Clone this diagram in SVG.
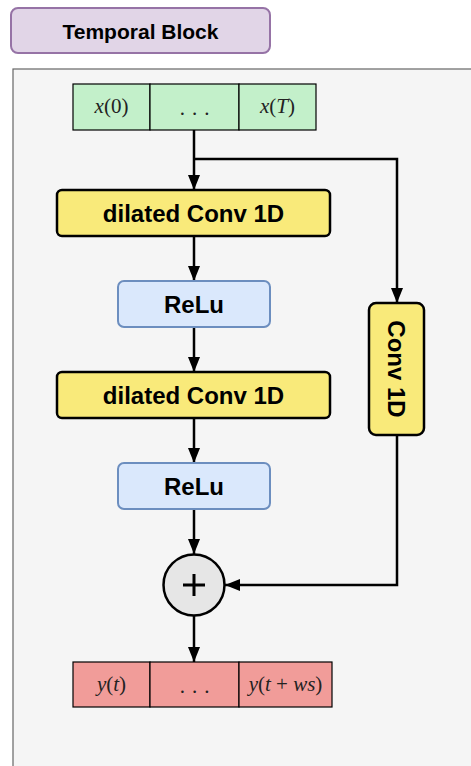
<svg xmlns="http://www.w3.org/2000/svg" width="471" height="766" viewBox="0 0 471 766">
  <defs>
    <marker id="arrow" viewBox="0 0 15 12" refX="15" refY="6" markerWidth="15" markerHeight="12" markerUnits="userSpaceOnUse" orient="auto">
      <path d="M0,0 L15,6 L0,12 z" fill="#000"/>
    </marker>
    <style>
      .lbl { font-family: "Liberation Sans", Arial, sans-serif; font-weight: bold; font-size: 24px; fill: #000; text-anchor: middle; dominant-baseline: central; }
      .title { font-size: 21px; }
      .math { font-family: "Liberation Serif", "Times New Roman", serif; font-style: italic; font-size: 21px; fill: #222; text-anchor: middle; dominant-baseline: central; }
      .up { font-style: normal; }
      .conv { fill: #f9ea7a; stroke: #000; stroke-width: 2.5; }
      .relu { fill: #dae8fc; stroke: #6c8ebf; stroke-width: 2; }
      .inp { fill: #c3f0ca; stroke: #000; stroke-width: 1.2; }
      .out { fill: #f19c99; stroke: #000; stroke-width: 1.2; }
      .wire { fill: none; stroke: #000; stroke-width: 2.5; }
    </style>
  </defs>

  <rect width="471" height="766" fill="#ffffff"/>

  <g id="title">
    <rect x="11" y="8" width="259" height="45" rx="7" fill="#e1d5e7" stroke="#9673a6" stroke-width="2"/>
    <text class="lbl title" x="140.5" y="31">Temporal Block</text>
  </g>

  <g id="container">
    <rect x="13" y="69" width="470" height="710" fill="#f5f5f5" stroke="#666666" stroke-width="1.2"/>
  </g>

  <g id="connectors">
    <path class="wire" d="M194,130 V190" marker-end="url(#arrow)" />
    <path class="wire" d="M194,159 H397 V303" marker-end="url(#arrow)" />
    <path class="wire" d="M194,236 V281" marker-end="url(#arrow)" />
    <path class="wire" d="M194,327 V372" marker-end="url(#arrow)" />
    <path class="wire" d="M194,418 V463" marker-end="url(#arrow)" />
    <path class="wire" d="M194,509 V554" marker-end="url(#arrow)" />
    <path class="wire" d="M397,435 V585 H225" marker-end="url(#arrow)" />
    <path class="wire" d="M194,616 V662" marker-end="url(#arrow)" />
  </g>

  <g id="input">
    <rect class="inp" x="73" y="84" width="77" height="46"/>
    <rect class="inp" x="150" y="84" width="89" height="46"/>
    <rect class="inp" x="239" y="84" width="77" height="46"/>
    <text class="math" x="111.5" y="106">x<tspan class="up">(0)</tspan></text>
    <text class="math up" x="198" y="108" letter-spacing="7">...</text>
    <text class="math" x="277.5" y="106">x<tspan class="up">(</tspan>T<tspan class="up">)</tspan></text>
  </g>

  <g id="conv-1">
    <rect class="conv" x="57" y="190" width="273" height="46" rx="5"/>
    <text class="lbl" x="193.5" y="213">dilated Conv 1D</text>
  </g>

  <g id="relu-1">
    <rect class="relu" x="118" y="281" width="152" height="46" rx="6"/>
    <text class="lbl" x="194" y="304">ReLu</text>
  </g>

  <g id="conv-2">
    <rect class="conv" x="57" y="372" width="273" height="46" rx="5"/>
    <text class="lbl" x="193.5" y="395">dilated Conv 1D</text>
  </g>

  <g id="relu-2">
    <rect class="relu" x="118" y="463" width="152" height="46" rx="6"/>
    <text class="lbl" x="194" y="486">ReLu</text>
  </g>

  <g id="skip-conv">
    <rect class="conv" x="369" y="303" width="55" height="132" rx="7"/>
    <text class="lbl" x="396.5" y="369" transform="rotate(90 396.5 369)">Conv 1D</text>
  </g>

  <g id="sum">
    <circle cx="194" cy="585" r="30.5" fill="#e6e6e6" stroke="#000" stroke-width="2.5"/>
    <path d="M183,585 H205 M194,574 V596" stroke="#000" stroke-width="3"/>
  </g>

  <g id="output">
    <rect class="out" x="73" y="662" width="77" height="45"/>
    <rect class="out" x="150" y="662" width="89" height="45"/>
    <rect class="out" x="239" y="662" width="93" height="45"/>
    <text class="math" x="111.5" y="684">y<tspan class="up">(</tspan>t<tspan class="up">)</tspan></text>
    <text class="math up" x="198" y="686" letter-spacing="7">...</text>
    <text class="math" x="285.5" y="684">y<tspan class="up">(</tspan>t<tspan class="up"> + </tspan>ws<tspan class="up">)</tspan></text>
  </g>
</svg>
